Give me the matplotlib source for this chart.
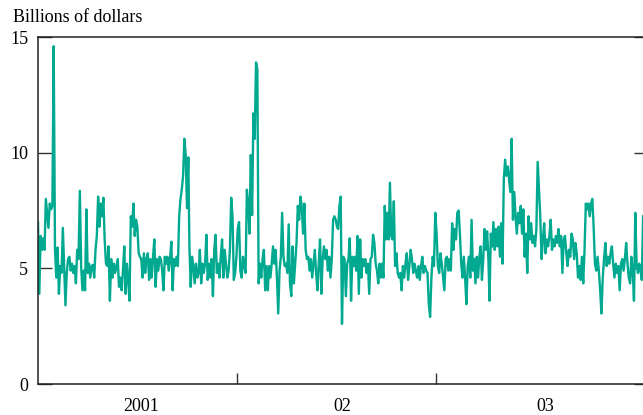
import matplotlib
matplotlib.use("Agg")
import matplotlib.pyplot as plt
import numpy as np
import pandas as pd

# --- Data (billions of dollars) in four stretches ---
seg1_start, seg1_end = "2001-01-01", "2001-10-04"
seg1 = [7.0, 3.9, 6.4, 5.8, 6.3, 5.8, 8.0, 7.4, 6.75, 7.8, 7.55, 7.7, 14.6, 5.8, 4.6, 5.9,
        3.9, 5.1, 4.8, 6.75, 5.1, 3.4, 4.8, 5.4, 5.5, 4.9, 5.2, 4.8, 5.1, 4.35, 5.8, 5.4,
        8.35, 5.1, 4.05, 4.9, 4.05, 7.55, 4.8, 5.2, 4.6, 5.1, 5.15, 4.6, 5.8, 6.4, 8.1, 6.8,
        7.8, 7.25, 8.05, 6.25, 5.2, 5.1, 5.95, 3.6, 5.4, 4.6, 5.2, 4.8, 5.1, 5.4, 4.2, 4.6,
        4.05, 4.9, 5.95, 3.9, 5.2, 4.5, 3.6, 7.25, 6.8, 7.8, 6.4, 7.1, 6.8, 5.65, 5.5, 5.4,
        4.6, 5.65, 4.8, 5.4, 5.65, 4.5, 5.4, 4.6, 5.5, 6.25, 4.2, 5.4, 4.9, 5.5, 5.4, 4.9,
        4.05, 5.5, 5.2, 5.5, 4.9, 5.4, 6.15, 4.05, 5.4, 5.1, 5.5, 5.1, 7.25, 8.0, 8.4, 9.0,
        10.6, 9.9, 7.6, 9.8]

seg2_start, seg2_end = "2001-10-06", "2002-07-04"
seg2 = [5.95, 4.2, 5.5, 5.1, 4.35, 5.2, 4.6, 4.8, 5.8, 4.35, 5.2, 4.8, 5.2, 6.45, 4.5, 5.2,
        4.6, 5.4, 3.8, 5.8, 6.45, 4.8, 5.2, 4.6, 5.5, 6.25, 4.6, 5.8, 5.2, 4.6, 4.9, 5.8,
        8.05, 7.25, 4.5, 4.8, 5.5, 6.7, 7.0, 4.9, 4.6, 5.5, 5.1, 4.8,
        8.4, 7.8, 6.5, 9.9, 7.3, 11.7, 10.6, 13.9, 13.6,
        4.35, 5.2, 4.6, 5.4, 5.8, 4.05, 5.1, 4.05, 5.1, 4.6, 5.2, 5.95, 5.2, 5.8, 4.6, 3.05,
        4.9, 5.5, 7.4, 5.5, 5.1, 5.2, 4.8, 6.9, 4.35, 3.8, 5.95, 4.35, 5.2, 6.1, 7.7, 7.1,
        8.1, 7.7, 6.5, 7.8, 5.8, 5.4, 5.5, 4.9, 5.4, 4.6, 5.2, 5.8, 4.8, 4.05, 5.2, 6.25,
        3.9, 5.4, 5.95, 5.4, 5.8, 4.9, 5.5, 4.6, 5.4, 7.1, 7.25, 7.1, 6.8]

seg3_start, seg3_end = "2002-07-06", "2003-04-08"
seg3 = [6.7, 7.7, 8.1, 2.6, 5.5, 5.4, 3.8, 5.2, 5.4, 6.3, 3.6, 5.5, 5.1, 5.5, 4.9, 6.4,
        3.9, 6.25, 4.6, 5.4, 5.1, 5.4, 4.8, 5.2, 3.9, 5.4, 5.5, 6.45, 6.1, 5.2, 4.9, 4.35,
        5.2, 4.6, 5.2, 4.6, 7.7, 6.25, 7.4, 6.25, 8.7, 6.4, 6.25, 7.9, 5.1, 5.65, 4.8, 4.6,
        4.8, 4.05, 5.1, 4.6, 5.2, 5.65, 4.5, 5.1, 5.8, 5.4, 4.8, 5.2, 4.9, 4.6, 5.1, 4.5,
        5.1, 5.5, 4.8, 5.1, 4.9, 4.8, 3.45, 2.9, 4.6, 5.5, 5.1, 7.4, 6.5, 5.1, 4.8, 5.65,
        5.2, 4.6, 4.05, 5.4, 5.5, 4.9, 5.4, 4.9, 6.95, 5.8, 6.7, 6.25, 7.4, 7.5, 6.5, 5.2,
        4.6, 5.5, 4.6, 3.45, 5.1, 5.5, 4.6, 7.1, 4.9, 5.4, 4.35, 5.5, 4.6, 5.5, 5.95, 4.5,
        5.4, 6.7, 5.8, 6.6, 5.4]

seg4_start, seg4_end = "2003-04-10", "2004-01-17"
seg4 = [3.6, 6.5, 5.95, 7.0, 5.8, 6.7, 5.95, 6.8, 5.5, 6.95, 5.2, 8.85, 9.7, 9.0, 9.4, 8.85,
        8.3, 10.6, 7.1, 8.3, 7.25, 6.5, 7.4, 6.95, 7.7, 6.5, 7.55, 5.5, 6.5, 4.8, 7.25, 6.25,
        6.95, 6.1, 6.4, 5.95, 6.7, 9.6, 8.4, 7.25, 5.4, 6.25, 6.95, 5.65, 6.25, 5.95, 6.4, 7.1,
        5.8, 6.25, 5.95, 6.4, 6.1, 6.7, 5.95, 6.4, 4.8, 6.25, 6.4, 5.65, 5.1, 5.8, 5.5, 6.5,
        6.25, 5.4, 6.1, 5.65, 4.6, 5.1, 4.5, 5.5, 4.35, 5.8, 7.8, 7.55, 7.8, 7.25, 7.8, 8.0,
        6.8, 5.2, 4.9, 5.5, 4.9, 4.05, 3.05, 4.6, 5.4, 6.1, 5.1, 5.5, 5.2, 5.65, 5.95, 5.2,
        4.6, 5.2, 4.8, 5.1, 4.05, 5.2, 5.4, 4.9, 5.4, 6.1, 5.2, 4.6, 4.35, 5.5, 4.9, 3.6,
        7.4, 5.2, 4.8, 5.2, 4.9, 4.5, 7.25]

year_labels = ["2001", "02", "03"]
label_dates = ["2001-07-10", "2002-07-14", "2003-07-22"]
year_ticks = ["2002-01-01", "2003-01-01"]

# --- Build series ---
parts = []
for start, end, vals in [(seg1_start, seg1_end, seg1), (seg2_start, seg2_end, seg2),
                         (seg3_start, seg3_end, seg3), (seg4_start, seg4_end, seg4)]:
    idx = pd.date_range(start, end, periods=len(vals))
    parts.append(pd.Series(vals, index=idx))
series = pd.concat(parts)

# --- Plotting ---
plt.rcParams['font.family'] = ['Liberation Serif', 'DejaVu Serif']
fig = plt.figure(figsize=(6.43, 4.15), dpi=100)
ax = fig.add_axes([38 / 643, 1 - 384 / 415, 610 / 643, 347 / 415])

ax.plot(series.index, series.values, color='#00a98f', linewidth=1.7)

ax.set_ylim(0, 15)
ax.set_xlim(pd.Timestamp("2001-01-01"), pd.Timestamp("2004-01-26"))
ax.set_yticks([0, 5, 10, 15])
ax.tick_params(axis='y', direction='in', length=10, width=1, right=True, labelsize=13,
               pad=7, color='#333333')

ax.set_xticks(pd.to_datetime(year_ticks))
ax.set_xticklabels([])
ax.tick_params(axis='x', which='major', direction='in', length=8, width=1, color='#333333')
ax.set_xticks(pd.to_datetime(label_dates), minor=True)
ax.set_xticklabels(year_labels, minor=True)
ax.tick_params(axis='x', which='minor', length=0, labelsize=13, pad=10)

for side in ['left', 'bottom', 'top', 'right']:
    ax.spines[side].set_linewidth(1.1)
    ax.spines[side].set_color('#222222')

fig.text(13 / 643, 1 - 18 / 415, 'Billions of dollars', fontsize=13, va='center', ha='left')

fig.savefig('out.png', dpi=100)
